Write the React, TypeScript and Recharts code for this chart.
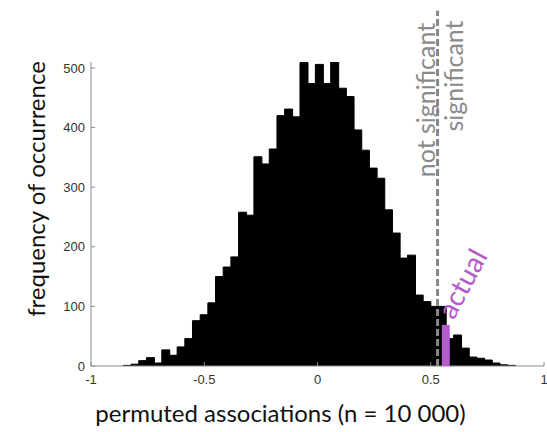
import React from 'react';
import {
  ComposedChart,
  Bar,
  XAxis,
  YAxis,
  ReferenceLine,
  ReferenceArea,
} from 'recharts';

// Histogram of 10 000 permuted associations
const binStart = -0.857;
const binWidth = 0.0339;
const binCounts = [
  1, 3, 9, 14, 5, 27, 18, 32, 46, 76,
  86, 106, 150, 166, 183, 258, 253, 351, 339, 364,
  420, 431, 418, 509, 474, 506, 474, 510, 466, 452,
  396, 362, 332, 315, 262, 223, 181, 186, 119, 108,
  100, 100, 46, 52, 30, 15, 13, 10, 5, 2,
  1,
];

const xTicks = [-1, -0.5, 0, 0.5, 1];
const yTicks = [0, 100, 200, 300, 400, 500];

// significance threshold and the observed association
const threshold = 0.53;
const thresholdTop = 596;
const actualFrom = 0.549;
const actualTo = 0.584;
const actualCount = 69;

const bins = binCounts.map((count, i) => ({
  x: binStart + (i + 0.5) * binWidth,
  count,
}));

const LABEL_FONT = 'Lato, "Open Sans", sans-serif';
const GREY = '#8a8a8a';
const PURPLE = '#b45cc9';

const XTitle = (props: any) => {
  const vb = props.viewBox || {};
  return (
    <text
      x={vb.x + vb.width / 2 - 37}
      y={vb.y + 46}
      textAnchor="middle"
      dominantBaseline="central"
      fontFamily={LABEL_FONT}
      fontSize={24}
      fill="#111"
    >
      permuted associations (n = 10 000)
    </text>
  );
};

const YTitle = (props: any) => {
  const vb = props.viewBox || {};
  const cx = vb.x + vb.width - 56;
  const cy = vb.y + vb.height / 2 - 25;
  return (
    <text
      x={cx}
      y={cy}
      transform={`rotate(-90, ${cx}, ${cy})`}
      textAnchor="middle"
      dominantBaseline="central"
      fontFamily={LABEL_FONT}
      fontSize={24}
      fill="#111"
    >
      frequency of occurrence
    </text>
  );
};

const ThresholdLabels = (props: any) => {
  const vb = props.viewBox || {};
  const lx = vb.x - 13;
  const ly = 100;
  const rx = vb.x + 15;
  const ry = 76;
  return (
    <g>
      <text
        x={lx}
        y={ly}
        transform={`rotate(-90, ${lx}, ${ly})`}
        textAnchor="middle"
        dominantBaseline="central"
        fontFamily={LABEL_FONT}
        fontSize={25}
        fill={GREY}
      >
        not significant
      </text>
      <text
        x={rx}
        y={ry}
        transform={`rotate(-90, ${rx}, ${ry})`}
        textAnchor="middle"
        dominantBaseline="central"
        fontFamily={LABEL_FONT}
        fontSize={25}
        fill={GREY}
      >
        significant
      </text>
    </g>
  );
};

const ActualLabel = (props: any) => {
  const vb = props.viewBox || {};
  const ax = vb.x + vb.width + 4;
  const ay = vb.y - 4;
  return (
    <text
      x={ax}
      y={ay}
      transform={`rotate(-62, ${ax}, ${ay})`}
      textAnchor="start"
      fontFamily={LABEL_FONT}
      fontSize={28}
      fill={PURPLE}
    >
      actual
    </text>
  );
};

export default function App() {
  return (
    <div style={{ position: 'absolute', left: 0, top: 0, background: '#fff' }}>
      <ComposedChart
        width={547}
        height={432}
        data={bins}
        margin={{ top: 62, right: 3, bottom: 0, left: 0 }}
        barCategoryGap={0}
        barGap={0}
      >
        <XAxis
          dataKey="x"
          type="number"
          domain={[-1, 1]}
          ticks={xTicks}
          interval={0}
          allowDataOverflow
          height={66}
          stroke={GREY}
          tickSize={-4}
          tickMargin={13}
          tick={{ fill: '#333', fontSize: 13, fontFamily: '"Liberation Sans", Arial, sans-serif' }}
          label={<XTitle />}
        />
        <YAxis
          type="number"
          domain={[0, 510]}
          ticks={yTicks}
          interval={0}
          allowDataOverflow
          width={91}
          stroke={GREY}
          tickSize={-4}
          tickMargin={10}
          tick={{ fill: '#333', fontSize: 13, fontFamily: '"Liberation Sans", Arial, sans-serif' }}
          label={<YTitle />}
        />
        <Bar
          dataKey="count"
          fill="#000"
          stroke="#000"
          strokeWidth={1}
          isAnimationActive={false}
        />
        <ReferenceArea
          x1={actualFrom}
          x2={actualTo}
          y1={0}
          y2={actualCount}
          fill={PURPLE}
          fillOpacity={1}
          stroke="none"
          ifOverflow="visible"
          zIndex={700}
          label={<ActualLabel />}
        />
        <ReferenceLine
          segment={[
            { x: threshold, y: 0 },
            { x: threshold, y: thresholdTop },
          ]}
          stroke="#888"
          strokeWidth={3}
          strokeDasharray="7 3"
          ifOverflow="visible"
          zIndex={800}
          label={<ThresholdLabels />}
        />
      </ComposedChart>
    </div>
  );
}
